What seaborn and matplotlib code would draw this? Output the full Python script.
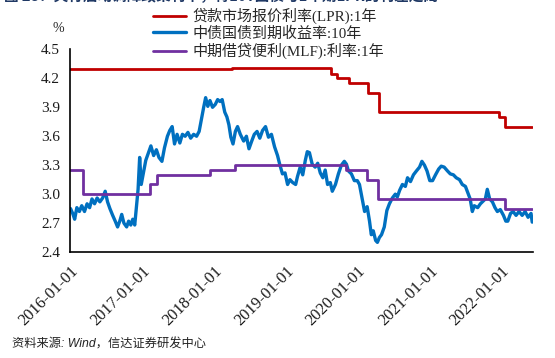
import numpy as np
import pandas as pd
import matplotlib
matplotlib.use("Agg")
import matplotlib.pyplot as plt
import matplotlib.dates as mdates
import seaborn as sns

sns.set_style("white")
plt.rcParams['font.family'] = ['Liberation Serif', 'Noto Sans CJK SC', 'DejaVu Sans']

# ---------------- data ----------------
series_names = ["贷款市场报价利率(LPR):1年", "中债国债到期收益率:10年", "中期借贷便利(MLF):利率:1年"]

lpr_dates = ["2016-01-01", "2018-04-01", "2019-08-20", "2019-09-20", "2019-11-20",
             "2020-02-20", "2020-04-20", "2021-12-20", "2022-01-20", "2022-06-06"]
lpr_values = [4.30, 4.31, 4.25, 4.20, 4.15, 4.05, 3.85, 3.80, 3.70, 3.70]

mlf_dates = ["2016-01-01", "2016-03-08", "2017-02-08", "2017-03-16", "2017-12-14",
             "2018-04-17", "2019-11-05", "2020-02-17", "2020-04-15", "2022-01-17", "2022-06-06"]
mlf_values = [3.25, 3.00, 3.10, 3.20, 3.25, 3.30, 3.25, 3.15, 2.95, 2.85, 2.85]

cgb_dates = [
    "2016-01-04", "2016-01-15", "2016-01-25", "2016-02-05", "2016-02-18", "2016-03-01", "2016-03-15",
    "2016-03-28", "2016-04-10", "2016-04-22", "2016-05-05", "2016-05-18", "2016-06-01", "2016-06-15",
    "2016-06-28", "2016-07-10", "2016-07-22", "2016-08-05", "2016-08-18", "2016-08-30", "2016-09-10",
    "2016-09-20", "2016-10-01", "2016-10-15", "2016-10-25", "2016-11-05", "2016-11-15", "2016-11-25",
    "2016-12-05", "2016-12-12", "2016-12-20", "2016-12-28",
    "2017-01-08", "2017-01-20", "2017-02-01", "2017-02-15", "2017-03-01", "2017-03-15", "2017-03-28",
    "2017-04-12", "2017-04-25", "2017-05-10", "2017-05-22", "2017-06-03", "2017-06-15", "2017-06-28",
    "2017-07-12", "2017-07-25", "2017-08-08", "2017-08-22", "2017-09-05", "2017-09-20", "2017-10-05",
    "2017-10-18", "2017-10-30", "2017-11-10", "2017-11-20", "2017-12-01", "2017-12-12", "2017-12-25",
    "2018-01-08", "2018-01-20", "2018-02-01", "2018-02-12", "2018-02-25", "2018-03-08", "2018-03-18",
    "2018-03-28", "2018-04-08", "2018-04-20", "2018-05-01", "2018-05-15", "2018-06-01", "2018-06-15",
    "2018-06-28", "2018-07-12", "2018-07-25", "2018-08-08", "2018-08-22", "2018-09-05", "2018-09-20",
    "2018-10-05", "2018-10-20", "2018-11-05", "2018-11-20", "2018-12-01", "2018-12-15", "2018-12-28",
    "2019-01-10", "2019-01-22", "2019-02-05", "2019-02-20", "2019-03-01", "2019-03-15", "2019-03-28",
    "2019-04-10", "2019-04-20", "2019-05-01", "2019-05-15", "2019-05-30", "2019-06-12", "2019-06-25",
    "2019-07-08", "2019-07-20", "2019-08-01", "2019-08-15", "2019-08-25", "2019-09-10", "2019-09-25",
    "2019-10-10", "2019-10-25", "2019-11-05", "2019-11-15", "2019-11-30", "2019-12-15", "2019-12-30",
    "2020-01-10", "2020-01-22", "2020-02-05", "2020-02-18", "2020-03-01", "2020-03-10", "2020-03-20",
    "2020-04-01", "2020-04-10", "2020-04-20", "2020-05-01", "2020-05-15", "2020-05-28", "2020-06-10",
    "2020-06-25", "2020-07-10", "2020-07-20", "2020-08-01", "2020-08-15", "2020-08-30", "2020-09-10",
    "2020-09-25", "2020-10-10", "2020-10-25", "2020-11-10", "2020-11-22", "2020-12-05", "2020-12-18",
    "2021-01-01", "2021-01-15", "2021-01-30", "2021-02-15", "2021-02-28", "2021-03-15", "2021-04-01",
    "2021-04-15", "2021-05-01", "2021-05-15", "2021-06-01", "2021-06-15", "2021-07-01", "2021-07-10",
    "2021-07-25", "2021-08-05", "2021-08-15", "2021-09-01", "2021-09-15", "2021-09-30", "2021-10-10",
    "2021-10-20", "2021-11-01", "2021-11-15", "2021-11-28", "2021-12-10", "2021-12-25",
    "2022-01-10", "2022-01-22", "2022-02-01", "2022-02-15", "2022-02-28", "2022-03-15", "2022-03-30",
    "2022-04-15", "2022-04-30", "2022-05-15", "2022-05-30", "2022-06-05",
]
cgb_values = [
    2.85, 2.80, 2.74, 2.86, 2.82, 2.88, 2.82,
    2.90, 2.86, 2.95, 2.90, 2.96, 2.92, 2.96,
    3.03, 2.92, 2.85, 2.78, 2.72, 2.66, 2.72,
    2.79, 2.70, 2.66, 2.72, 2.68, 2.74, 2.68,
    2.90, 3.05, 3.38, 3.10,
    3.22, 3.35, 3.42, 3.50, 3.40, 3.46, 3.38,
    3.34, 3.48, 3.60, 3.66, 3.70, 3.52, 3.62,
    3.53, 3.62, 3.60, 3.64, 3.58, 3.62, 3.60,
    3.65, 3.78, 3.90, 4.00, 3.91, 3.97, 3.90,
    3.93, 3.98, 3.96, 3.98, 3.85, 3.80, 3.72,
    3.59, 3.52, 3.65, 3.70, 3.62, 3.55, 3.60,
    3.47, 3.55, 3.62, 3.65, 3.58, 3.66, 3.70,
    3.59, 3.62, 3.49, 3.40, 3.31, 3.21, 3.22,
    3.10, 3.15, 3.12, 3.10, 3.18, 3.28, 3.20,
    3.35, 3.44, 3.43, 3.31, 3.28, 3.32, 3.22,
    3.17, 3.25, 3.10, 3.12, 3.03, 3.10, 3.21,
    3.30, 3.34, 3.31, 3.24, 3.21, 3.14, 3.14,
    3.10, 2.97, 2.82, 2.87, 2.72, 2.58, 2.62,
    2.52, 2.50, 2.55, 2.58, 2.66, 2.83, 2.90,
    2.96, 3.00, 2.97, 3.04, 3.10, 3.08, 3.17,
    3.13, 3.20, 3.24, 3.28, 3.34, 3.30, 3.24,
    3.14, 3.14, 3.20, 3.26, 3.29, 3.28, 3.24,
    3.21, 3.20, 3.17, 3.15, 3.10, 3.08, 3.03,
    2.95, 2.82, 2.88, 2.86, 2.90, 2.93, 2.95,
    3.05, 2.95, 2.92, 2.86, 2.82, 2.84,
    2.78, 2.72, 2.72, 2.80, 2.82, 2.78, 2.82,
    2.78, 2.82, 2.76, 2.80, 2.71,
]

y_ticks = [2.4, 2.7, 3.0, 3.3, 3.6, 3.9, 4.2, 4.5]
x_tick_labels = ["2016-01-01", "2017-01-01", "2018-01-01", "2019-01-01",
                 "2020-01-01", "2021-01-01", "2022-01-01"]

colors = ["#C00000", "#0070C0", "#7030A0"]

lpr = pd.DataFrame({"date": pd.to_datetime(lpr_dates), "value": lpr_values})
mlf = pd.DataFrame({"date": pd.to_datetime(mlf_dates), "value": mlf_values})
cgb = pd.DataFrame({"date": pd.to_datetime(cgb_dates), "value": cgb_values})

# ---------------- figure ----------------
fig = plt.figure(figsize=(5.55, 3.58), dpi=100)
ax = fig.add_axes([0.126, 0.296, 0.834, 0.566])

sns.lineplot(data=lpr, x="date", y="value", ax=ax, color=colors[0], lw=2.0,
             drawstyle="steps-post", label=series_names[0])
sns.lineplot(data=cgb, x="date", y="value", ax=ax, color=colors[1], lw=2.4,
             label=series_names[1])
sns.lineplot(data=mlf, x="date", y="value", ax=ax, color=colors[2], lw=2.0,
             drawstyle="steps-post", label=series_names[2])

ax.set_ylim(2.4, 4.5)
ax.set_yticks(y_ticks)
ax.set_yticklabels([f"{v:.1f}" for v in y_ticks])
ax.set_xlim(pd.Timestamp("2016-01-01"), pd.Timestamp("2022-06-08"))
ax.set_xticks(pd.to_datetime(x_tick_labels))
ax.set_xticklabels(x_tick_labels, rotation=45, ha="right", rotation_mode="anchor")
ax.set_xlabel("")
ax.set_ylabel("")

for s in ["top", "right"]:
    ax.spines[s].set_visible(False)
for s in ["left", "bottom"]:
    ax.spines[s].set_color("black")
    ax.spines[s].set_linewidth(1.2)
ax.tick_params(axis="both", direction="out", length=4, width=1.2, color="black",
               labelcolor="#1a1a1a", pad=3)
ax.tick_params(axis="y", labelsize=11)
ax.tick_params(axis="x", labelsize=11.8, pad=4)

ax.text(-0.025, 1.07, "%", transform=ax.transAxes, fontsize=10, ha="center", va="bottom")

handles, labels = ax.get_legend_handles_labels()
ax.get_legend().remove()
fig.legend(handles, labels, loc="upper left", bbox_to_anchor=(0.265, 0.995),
           frameon=False, fontsize=10.8, handlelength=2.2, handletextpad=0.4,
           labelspacing=0.15, borderaxespad=0)

fig.text(0.008, 1.012, "图 28：央行启动调降政策利率，将10Y国债与1年期LPR的利差走阔",
         fontsize=10.5, fontweight="bold", color="#1F3864", ha="left", va="center",
         family=["Noto Sans CJK SC", "DejaVu Sans"])

fig.text(0.022, 0.022, "资料来源: Wind，信达证券研发中心", fontsize=8.8, style="italic",
         ha="left", va="bottom", color="#222222", family=["Liberation Sans", "Noto Sans CJK SC"])

fig.savefig("out.png", dpi=100)
